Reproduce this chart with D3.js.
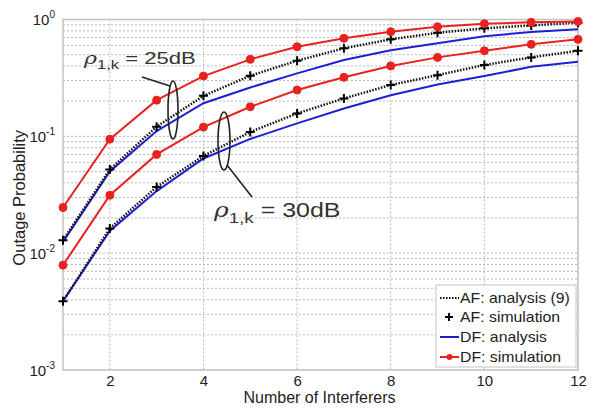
<!doctype html>
<html>
<head>
<meta charset="UTF-8">
<title>Outage Probability</title>
<script src="https://d3js.org/d3.v7.min.js"></script>
<style>
  body { margin: 0; background: #fff; }
  text { font-family: Arial, "Liberation Sans", sans-serif; }
</style>
</head>
<body>
<script>
// data
var interferers = [1, 2, 3, 4, 5, 6, 7, 8, 9, 10, 11, 12];
var xTicks = [2, 4, 6, 8, 10, 12];
var yExponents = [0, -1, -2, -3];

// rho = 25 dB
var afAna25 = [0.0129, 0.052, 0.121, 0.222, 0.33, 0.444, 0.567, 0.676, 0.77, 0.84, 0.89, 0.94];
var afSim25 = [0.0129, 0.052, 0.121, 0.222, 0.33, 0.444, 0.567, 0.676, 0.77, 0.84, 0.89, 0.94];
var dfAna25 = [0.0125, 0.05, 0.111, 0.192, 0.262, 0.346, 0.45, 0.545, 0.625, 0.72, 0.78, 0.824];
var dfSim25 = [0.0246, 0.0946, 0.204, 0.328, 0.456, 0.585, 0.69, 0.787, 0.867, 0.92, 0.945, 0.962];
// rho = 30 dB
var afAna30 = [0.00387, 0.0163, 0.0369, 0.068, 0.109, 0.157, 0.211, 0.275, 0.334, 0.408, 0.474, 0.54];
var afSim30 = [0.00387, 0.0163, 0.0369, 0.068, 0.109, 0.157, 0.211, 0.275, 0.334, 0.408, 0.474, 0.54];
var dfAna30 = [0.0039, 0.0155, 0.034, 0.0646, 0.095, 0.129, 0.173, 0.225, 0.278, 0.328, 0.394, 0.435];
var dfSim30 = [0.0079, 0.0313, 0.070, 0.12, 0.179, 0.249, 0.32, 0.40, 0.474, 0.54, 0.613, 0.676];

var legendLabels = ["AF: analysis (9)", "AF: simulation", "DF: analysis", "DF: simulation"];

var red = "#e8231f", blue = "#1f1fd6", gridC = "#b8b8b8";

var W = 597, H = 408;
var m = {left: 63, top: 19.5, right: 19, bottom: 38};
var iw = W - m.left - m.right, ih = H - m.top - m.bottom;

var svg = d3.select("body").append("svg").attr("width", W).attr("height", H);
svg.append("rect").attr("width", W).attr("height", H).attr("fill", "#fff");

var x = d3.scaleLinear().domain([1, 12]).range([0, iw]);
var y = d3.scaleLog().domain([1e-3, 1]).range([ih, 0]);

var g = svg.append("g").attr("transform", "translate(" + m.left + "," + m.top + ")");

// grid
var minor = [];
for (var e = -3; e < 0; e++) for (var k = 2; k <= 9; k++) minor.push(k * Math.pow(10, e));
var majorY = yExponents.map(function(p) { return Math.pow(10, p); });

g.append("g").selectAll("line").data(minor.concat(majorY)).enter().append("line")
  .attr("x1", 0).attr("x2", iw)
  .attr("y1", function(d) { return y(d); }).attr("y2", function(d) { return y(d); })
  .attr("stroke", gridC).attr("stroke-width", 1).attr("stroke-dasharray", "2,2");

g.append("g").selectAll("line").data(xTicks).enter().append("line")
  .attr("x1", function(d) { return x(d); }).attr("x2", function(d) { return x(d); })
  .attr("y1", 0).attr("y2", ih)
  .attr("stroke", gridC).attr("stroke-width", 1).attr("stroke-dasharray", "2,2");

// frame
g.append("rect").attr("width", iw).attr("height", ih)
  .attr("fill", "none").attr("stroke", "#c4c4c4").attr("stroke-width", 1.5);

// axes
var xAxis = g.append("g").attr("transform", "translate(0," + ih + ")")
  .call(d3.axisBottom(x).tickValues(xTicks).tickSize(0).tickPadding(5));
xAxis.select(".domain").remove();
xAxis.selectAll("text").attr("font-size", 15).attr("fill", "#222");

var yAxis = g.append("g").call(d3.axisLeft(y).tickValues(majorY).tickSize(0).tickFormat(""));
yAxis.select(".domain").remove();
yAxis.selectAll(".tick").each(function(d) {
  var t = d3.select(this).append("text").attr("x", -8).attr("y", 5)
    .attr("text-anchor", "end").attr("fill", "#222").attr("font-size", 15);
  t.append("tspan").text("10");
  t.append("tspan").attr("dy", -7).attr("font-size", 10).text(Math.round(Math.log10(d)));
});

// labels
svg.append("text").attr("x", m.left + iw / 2 - 1).attr("y", 403).attr("text-anchor", "middle")
  .attr("font-size", 16).attr("fill", "#222").text("Number of Interferers");
svg.append("text").attr("transform", "translate(25," + (m.top + ih / 2 + 3) + ") rotate(-90)")
  .attr("text-anchor", "middle").attr("font-size", 16.5).attr("fill", "#222").text("Outage Probability");

var line = d3.line().x(function(d, i) { return x(interferers[i]); }).y(function(d) { return y(d); });

function drawLine(data, color, width, dash) {
  var p = g.append("path").datum(data).attr("d", line)
    .attr("fill", "none").attr("stroke", color).attr("stroke-width", width);
  if (dash) p.attr("stroke-dasharray", dash);
}
function drawPlus(data) {
  g.append("g").selectAll("path").data(data).enter().append("path")
    .attr("d", function(d, i) {
      var cx = x(interferers[i]), cy = y(d), s = 4.5;
      return "M" + (cx - s) + "," + cy + "H" + (cx + s) + "M" + cx + "," + (cy - s) + "V" + (cy + s);
    })
    .attr("stroke", "#000").attr("stroke-width", 2);
}
function drawDots(data) {
  g.append("g").selectAll("circle").data(data).enter().append("circle")
    .attr("cx", function(d, i) { return x(interferers[i]); })
    .attr("cy", function(d) { return y(d); })
    .attr("r", 4).attr("fill", red).attr("stroke", red);
}

[[dfAna25, afAna25, afSim25, dfSim25], [dfAna30, afAna30, afSim30, dfSim30]].forEach(function(s) {
  drawLine(s[0], blue, 2);
  drawLine(s[1], "#111", 2.5, "1.5,1.5");
  drawPlus(s[2]);
  drawLine(s[3], red, 2);
  drawDots(s[3]);
});

// annotations
g.append("ellipse").attr("cx", 173 - m.left).attr("cy", 110 - m.top).attr("rx", 5).attr("ry", 29)
  .attr("fill", "none").attr("stroke", "#222").attr("stroke-width", 1.6);
g.append("line").attr("x1", 142 - m.left).attr("y1", 77 - m.top).attr("x2", 170 - m.left).attr("y2", 86 - m.top)
  .attr("stroke", "#222").attr("stroke-width", 1.6);
g.append("ellipse").attr("cx", 224 - m.left).attr("cy", 141 - m.top).attr("rx", 6).attr("ry", 29)
  .attr("fill", "none").attr("stroke", "#222").attr("stroke-width", 1.6);
g.append("line").attr("x1", 227 - m.left).attr("y1", 165 - m.top).attr("x2", 252 - m.left).attr("y2", 197 - m.top)
  .attr("stroke", "#222").attr("stroke-width", 1.6);

function rhoLabel(px, py, size, sx, val) {
  var t = svg.append("text").attr("transform", "translate(" + px + "," + py + ") scale(" + sx + ",1)")
    .attr("font-size", size).attr("fill", "#333");
  t.append("tspan").attr("font-style", "italic").attr("font-family", "DejaVu Serif, serif").text("\u03C1");
  t.append("tspan").attr("dy", size * 0.3).attr("font-size", size * 0.75).text("1,k");
  t.append("tspan").attr("dy", -size * 0.3).text(" = " + val);
}
rhoLabel(84, 64, 17, 1.3, "25dB");
rhoLabel(214, 217, 20, 1.25, "30dB");

// legend
var lg = svg.append("g");
lg.append("rect").attr("x", 436).attr("y", 285).attr("width", 140).attr("height", 82)
  .attr("fill", "#fff").attr("stroke", "#c4c4c4").attr("stroke-width", 1);
var rowsY = [298, 317, 337, 357];
legendLabels.forEach(function(lab, i) {
  var yy = rowsY[i];
  if (i === 0) lg.append("line").attr("x1", 440).attr("x2", 459).attr("y1", yy).attr("y2", yy)
    .attr("stroke", "#111").attr("stroke-width", 2).attr("stroke-dasharray", "1.5,1.5");
  if (i === 1) lg.append("path").attr("d", "M" + 445 + "," + yy + "H" + 453 + "M449," + (yy - 4) + "V" + (yy + 4))
    .attr("stroke", "#000").attr("stroke-width", 2);
  if (i === 2) lg.append("line").attr("x1", 440).attr("x2", 459).attr("y1", yy).attr("y2", yy)
    .attr("stroke", blue).attr("stroke-width", 2);
  if (i === 3) {
    lg.append("line").attr("x1", 440).attr("x2", 459).attr("y1", yy).attr("y2", yy)
      .attr("stroke", red).attr("stroke-width", 2);
    lg.append("circle").attr("cx", 449.5).attr("cy", yy).attr("r", 3).attr("fill", red);
  }
  lg.append("text").attr("transform", "translate(460," + (yy + 5) + ") scale(1.13,1)")
    .attr("font-size", 14).attr("fill", "#222").text(lab);
});
</script>
</body>
</html>
